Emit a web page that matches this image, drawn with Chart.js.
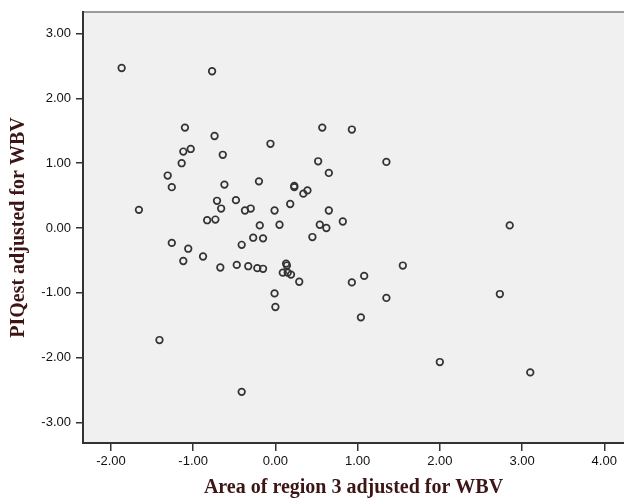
<!DOCTYPE html>
<html>
<head>
<meta charset="utf-8">
<script src="https://cdn.jsdelivr.net/npm/chart.js@4.4.1/dist/chart.umd.min.js"></script>
<style>
html,body{margin:0;padding:0;background:#fff;overflow:hidden;}
#wrap{width:624px;height:498px;position:relative;}
</style>
</head>
<body>
<div id="wrap"><canvas id="c" width="624" height="498"></canvas></div>
<script>
// Data
const xValues = [
 -1.87,-0.77,-1.10,-0.74,-1.12,-1.03,-1.14,-0.64,-0.06,0.57,
  0.93,1.35,0.52,0.65,-1.31,-1.26,-0.62,-0.20,0.23,0.23,
  0.34,0.39,-1.66,-0.71,-0.66,-0.48,-0.37,-0.30,-0.01,0.18,
  0.65,-0.83,-0.73,-0.19,0.05,0.54,0.62,0.82,2.85,-1.26,
 -1.06,-0.41,-0.27,-0.15,0.45,-0.88,-1.12,-0.67,-0.47,-0.33,
 -0.22,-0.15,0.13,0.14,0.09,0.15,0.19,0.29,-0.01,0.00,
  0.93,1.08,1.55,1.35,1.04,2.73,-1.41,2.00,3.10,-0.41
];
const yValues = [
  2.47,2.42,1.55,1.42,1.18,1.22,1.00,1.13,1.30,1.55,
  1.52,1.02,1.03,0.85,0.81,0.63,0.67,0.72,0.65,0.63,
  0.53,0.58,0.28,0.42,0.30,0.43,0.27,0.30,0.27,0.37,
  0.27,0.12,0.13,0.04,0.05,0.05,0.00,0.10,0.04,-0.23,
 -0.32,-0.26,-0.15,-0.16,-0.14,-0.44,-0.51,-0.61,-0.57,-0.59,
 -0.62,-0.63,-0.55,-0.58,-0.69,-0.69,-0.72,-0.83,-1.01,-1.22,
 -0.84,-0.74,-0.58,-1.08,-1.38,-1.02,-1.73,-2.07,-2.23,-2.53
];
const xTicks = [-2, -1, 0, 1, 2, 3, 4];
const yTicks = [-3, -2, -1, 0, 1, 2, 3];
const xTitle = 'Area of region 3 adjusted for WBV';
const yTitle = 'PIQest adjusted for WBV';

const points = xValues.map((x, i) => ({x: x, y: yValues[i]}));

const frame = {
  id: 'frame',
  beforeDraw(chart) {
    const {ctx, chartArea: a} = chart;
    ctx.save();
    ctx.fillStyle = '#f0f0f0';
    ctx.fillRect(a.left, a.top, chart.width - a.left, a.bottom - a.top);
    ctx.strokeStyle = '#9a9a9a';
    ctx.lineWidth = 2;
    ctx.beginPath();
    ctx.moveTo(a.left, a.top);
    ctx.lineTo(chart.width, a.top);
    ctx.stroke();
    ctx.restore();
  }
};

const tickFont = {family: '"Liberation Sans", Arial, sans-serif', size: 13};
const titleFont = {family: '"Liberation Serif", "Times New Roman", serif', size: 20, weight: 'bold', lineHeight: 1.0};
const titleColor = '#3d1515';

new Chart(document.getElementById('c'), {
  type: 'scatter',
  data: {
    datasets: [{
      data: points,
      pointRadius: 3.3,
      pointHoverRadius: 3.3,
      pointBorderWidth: 1.7,
      pointBorderColor: '#333',
      pointBackgroundColor: 'rgba(0,0,0,0)'
    }]
  },
  options: {
    responsive: false,
    animation: false,
    events: [],
    layout: {autoPadding: false, padding: {top: 12, right: 0, left: 0, bottom: 0}},
    plugins: {legend: {display: false}, tooltip: {enabled: false}},
    scales: {
      x: {
        type: 'linear',
        min: -2.34,
        max: 4.24,
        afterFit(s) { s.height = 55; s.paddingLeft = 0; s.paddingRight = 0; },
        afterBuildTicks(s) { s.ticks = xTicks.map(v => ({value: v})); },
        border: {display: true, color: '#333', width: 2},
        grid: {display: true, drawOnChartArea: false, drawTicks: true, tickLength: 8, color: '#333', lineWidth: 1.5},
        ticks: {font: tickFont, color: '#111', padding: 3, maxRotation: 0, callback: v => Number(v).toFixed(2)},
        title: {display: true, text: xTitle, font: titleFont, color: titleColor, padding: {top: 0, bottom: 0}}
      },
      y: {
        type: 'linear',
        min: -3.32,
        max: 3.335,
        afterFit(s) { s.width = 83; s.paddingTop = 0; s.paddingBottom = 0; },
        afterBuildTicks(s) { s.ticks = yTicks.map(v => ({value: v})); },
        border: {display: true, color: '#333', width: 2},
        grid: {display: true, drawOnChartArea: false, drawTicks: true, tickLength: 7, color: '#333', lineWidth: 1.5},
        ticks: {font: tickFont, color: '#111', padding: 5, callback: v => Number(v).toFixed(2)},
        title: {display: true, text: yTitle, font: titleFont, color: titleColor, padding: {top: 9, bottom: 0}}
      }
    }
  },
  plugins: [frame]
});
</script>
</body>
</html>
